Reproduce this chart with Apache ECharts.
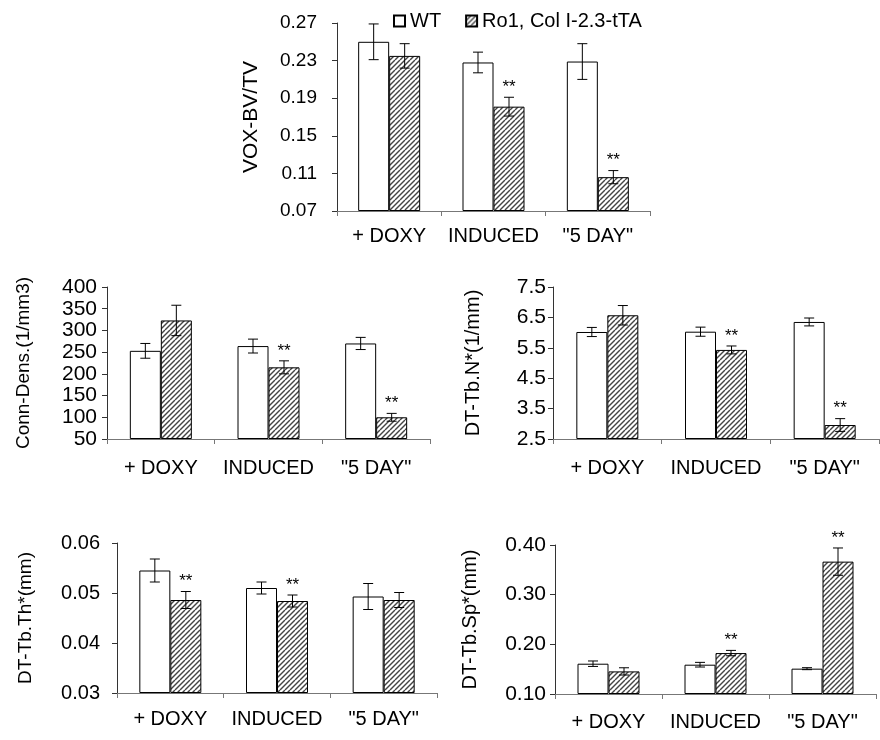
<!DOCTYPE html>
<html>
<head>
<meta charset="utf-8">
<script src="https://cdn.jsdelivr.net/npm/echarts@6/dist/echarts.min.js"></script>
<style>
  html, body { margin: 0; padding: 0; background: #fff; }
  #main { width: 880px; height: 740px; }
</style>
</head>
<body>
<div id="main"></div>
<script>
  const categories = ['+ DOXY', 'INDUCED', '"5 DAY"'];
  const legendNames = ['WT', 'Ro1, Col I-2.3-tTA'];

  // VOX-BV/TV
  const voxWT = [0.250, 0.228, 0.229];
  const voxWTErr = [0.019, 0.011, 0.019];
  const voxTG = [0.235, 0.181, 0.106];
  const voxTGErr = [0.013, 0.010, 0.007];
  const voxSig = [0, 1, 1];

  // Conn-Dens.(1/mm3)
  const connWT = [253, 264, 270];
  const connWTErr = [17, 16, 14];
  const connTG = [323, 215, 100];
  const connTGErr = [35, 15, 9];
  const connSig = [0, 1, 1];

  // DT-Tb.N*(1/mm)
  const tbnWT = [6.02, 6.03, 6.35];
  const tbnWTErr = [0.15, 0.15, 0.13];
  const tbnTG = [6.57, 5.43, 2.96];
  const tbnTGErr = [0.32, 0.13, 0.21];
  const tbnSig = [0, 1, 1];

  // DT-Tb.Th*(mm)
  const tbthWT = [0.0545, 0.0510, 0.0493];
  const tbthWTErr = [0.0023, 0.0012, 0.0026];
  const tbthTG = [0.0486, 0.0484, 0.0486];
  const tbthTGErr = [0.0017, 0.0012, 0.0015];
  const tbthSig = [1, 1, 0];

  // DT-Tb.Sp*(mm)
  const tbspWT = [0.161, 0.159, 0.151];
  const tbspWTErr = [0.0055, 0.0047, 0.002];
  const tbspTG = [0.1455, 0.1824, 0.3665];
  const tbspTGErr = [0.0073, 0.0054, 0.0275];
  const tbspSig = [0, 1, 1];

  const FONT = '"Liberation Sans", Arial, sans-serif';
  const BAR_W = 31;

  // each panel: axis range + where it sits on the page
  const panels = [
    {name: 'VOX-BV/TV', wt: voxWT, wtErr: voxWTErr, tg: voxTG, tgErr: voxTGErr, sig: voxSig,
      min: 0.07, max: 0.27, interval: 0.04, dec: 2, tickFont: 19, nameFont: 21,
      grid: {left: 337, top: 23, width: 313, height: 188}, nameGap: 75, labelMargin: 20, xMargin: 15},
    {name: 'Conn-Dens.(1/mm3)', wt: connWT, wtErr: connWTErr, tg: connTG, tgErr: connTGErr, sig: connSig,
      min: 50, max: 400, interval: 50, dec: 0, tickFont: 21, nameFont: 19,
      grid: {left: 107, top: 287, width: 323, height: 152}, nameGap: 74, labelMargin: 10, xMargin: 19},
    {name: 'DT-Tb.N*(1/mm)', wt: tbnWT, wtErr: tbnWTErr, tg: tbnTG, tgErr: tbnTGErr, sig: tbnSig,
      min: 2.5, max: 7.5, interval: 1, dec: 1, tickFont: 21, nameFont: 20,
      grid: {left: 553, top: 287, width: 326, height: 152}, nameGap: 70, labelMargin: 7, xMargin: 19},
    {name: 'DT-Tb.Th*(mm)', wt: tbthWT, wtErr: tbthWTErr, tg: tbthTG, tgErr: tbthTGErr, sig: tbthSig,
      min: 0.03, max: 0.06, interval: 0.01, dec: 2, tickFont: 20, nameFont: 19,
      grid: {left: 117, top: 543, width: 320, height: 150}, nameGap: 82, labelMargin: 17, xMargin: 16},
    {name: 'DT-Tb.Sp*(mm)', wt: tbspWT, wtErr: tbspWTErr, tg: tbspTG, tgErr: tbspTGErr, sig: tbspSig,
      min: 0.10, max: 0.40, interval: 0.10, dec: 2, tickFont: 21, nameFont: 20,
      grid: {left: 555, top: 545, width: 321, height: 149}, nameGap: 75, labelMargin: 9, xMargin: 18}
  ];

  // diagonal hatch for the transgenic bars
  function makeHatch() {
    const s = 10;
    const c = document.createElement('canvas');
    c.width = s;
    c.height = s;
    const ctx = c.getContext('2d');
    ctx.fillStyle = '#fff';
    ctx.fillRect(0, 0, s, s);
    ctx.strokeStyle = '#444';
    ctx.lineWidth = 1.4;
    for (let k = -s; k <= 2 * s; k += 5) {
      ctx.beginPath();
      ctx.moveTo(k, s);
      ctx.lineTo(k + s, 0);
      ctx.stroke();
    }
    return c;
  }
  const hatch = {image: makeHatch(), repeat: 'repeat'};

  function renderErr(params, api) {
    const cat = api.value(0), v = api.value(1), e = api.value(2);
    const side = api.value(3), sig = api.value(4);
    const x = api.coord([cat, v])[0] + side * BAR_W / 2;
    const yTop = api.coord([cat, v + e])[1];
    const yBot = api.coord([cat, v - e])[1];
    const st = {stroke: '#000', lineWidth: 1};
    const children = [
      {type: 'line', shape: {x1: x, y1: yTop, x2: x, y2: yBot}, style: st},
      {type: 'line', shape: {x1: x - 5, y1: yTop, x2: x + 5, y2: yTop}, style: st},
      {type: 'line', shape: {x1: x - 5, y1: yBot, x2: x + 5, y2: yBot}, style: st}
    ];
    if (sig) {
      children.push({
        type: 'text',
        style: {x: x, y: yTop - 10, text: '**', fill: '#000', font: '17px ' + FONT,
          align: 'center', verticalAlign: 'middle'}
      });
    }
    return {type: 'group', children: children};
  }

  const grids = [], xAxes = [], yAxes = [], series = [];

  panels.forEach((p, i) => {
    const base = p.min;
    grids.push(Object.assign({containLabel: false}, p.grid));
    xAxes.push({
      type: 'category', gridIndex: i, data: categories,
      axisLine: {lineStyle: {color: '#777', width: 1}},
      axisTick: {show: true, length: 5, lineStyle: {color: '#777'}},
      axisLabel: {interval: 0, fontSize: 20, color: '#000', fontFamily: FONT, margin: p.xMargin}
    });
    yAxes.push({
      type: 'value', gridIndex: i,
      min: 0, max: +(p.max - base).toFixed(6), interval: p.interval,
      name: p.name, nameLocation: 'middle', nameGap: p.nameGap, nameRotate: 90,
      nameTextStyle: {fontSize: p.nameFont, color: '#000', fontFamily: FONT},
      axisLine: {show: true, lineStyle: {color: '#333'}},
      axisTick: {show: true, length: 5, lineStyle: {color: '#333'}},
      splitLine: {show: false},
      axisLabel: {fontSize: p.tickFont, color: '#000', fontFamily: FONT, margin: p.labelMargin,
        formatter: v => (v + base).toFixed(p.dec)}
    });
    series.push({
      type: 'bar', name: legendNames[0], xAxisIndex: i, yAxisIndex: i,
      data: p.wt.map(v => v - base), barWidth: BAR_W, barGap: '0%',
      itemStyle: {color: '#fff', borderColor: '#000', borderWidth: 1}
    });
    series.push({
      type: 'bar', name: legendNames[1], xAxisIndex: i, yAxisIndex: i,
      data: p.tg.map(v => v - base), barWidth: BAR_W, barGap: '0%',
      itemStyle: {color: hatch, borderColor: '#000', borderWidth: 1}
    });
    const rows = [];
    categories.forEach((c, k) => {
      rows.push([k, p.wt[k] - base, p.wtErr[k], -1, 0]);
      rows.push([k, p.tg[k] - base, p.tgErr[k], 1, p.sig[k]]);
    });
    series.push({
      type: 'custom', xAxisIndex: i, yAxisIndex: i, data: rows,
      renderItem: renderErr, clip: false, z: 10, silent: true
    });
  });

  const chart = echarts.init(document.getElementById('main'));
  chart.setOption({
    animation: false,
    backgroundColor: '#fff',
    legend: {
      data: legendNames, left: 388, top: 6, icon: 'rect',
      itemWidth: 11, itemHeight: 11, itemGap: 24,
      textStyle: {fontSize: 20, color: '#000', fontFamily: FONT}
    },
    grid: grids,
    xAxis: xAxes,
    yAxis: yAxes,
    series: series
  });
</script>
</body>
</html>
